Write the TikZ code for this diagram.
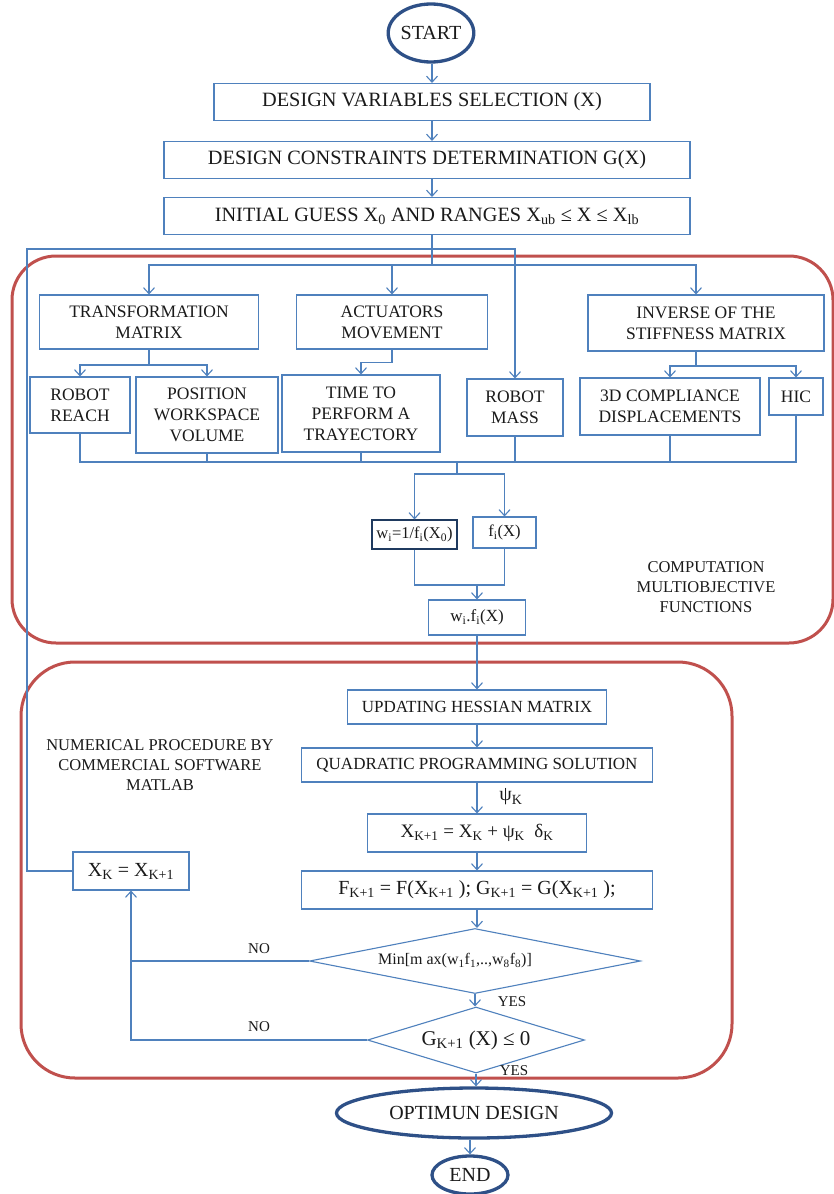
\documentclass[tikz,border=0pt]{standalone}
\usepackage{fontspec}
\setmainfont{Liberation Serif}
\usetikzlibrary{arrows.meta,shapes.geometric}
\definecolor{bl}{HTML}{4F81BD}
\definecolor{dbl}{HTML}{2E5087}
\definecolor{rd}{HTML}{C0504D}
\definecolor{nv}{HTML}{1F3A5F}
\definecolor{ink}{HTML}{1A1A1A}
\newcommand\lsub[1]{\textsubscript{#1}}
\begin{document}
\begin{tikzpicture}[x=1pt,y=-1pt,
  box/.style={draw=bl, line width=1.1pt, inner sep=0pt, align=center, text=ink,
    font=\fontsize{17.5}{21}\selectfont},
  bigbox/.style={box, font=\fontsize{20.3}{23}\selectfont},
  smbox/.style={box, font=\fontsize{17}{20}\selectfont},
  term/.style={ellipse, draw=dbl, line width=3.3pt, inner sep=0pt, text=ink,
    font=\fontsize{20}{22}\selectfont},
  grp/.style={draw=rd, line width=3pt, rounded corners=44pt, inner sep=0pt},
  dec/.style={diamond, draw=bl, line width=1.1pt, inner sep=0pt, text=ink},
  lbl/.style={inner sep=0pt, text=ink, align=center},
  ln/.style={draw=bl, line width=1.1pt},
  arr/.style={ln, -{Straight Barb[length=6pt,width=11pt]}}
]
\useasboundingbox (0,0) rectangle (834,1194);
\fill[white] (0,0) rectangle (834,1194);

% group frames
\node[grp, minimum width=821pt, minimum height=387pt] (g1) at (422.5,449.5) {};
\node[grp, rounded corners=54pt, minimum width=711pt, minimum height=416pt] (g2) at (376.5,870) {};

\coordinate (col) at (432,0);

% top column
\node[term, minimum width=80pt, minimum height=58pt] (start) at (431,33) {START};
\node[bigbox, minimum width=436pt, minimum height=37pt] (b1) at (432,102) {DESIGN VARIABLES SELECTION (X)};
\node[bigbox, minimum width=526pt, minimum height=37pt] (b2) at (427,160) {DESIGN CONSTRAINTS DETERMINATION G(X)};
\node[bigbox, minimum width=526pt, minimum height=37pt] (b3) at (427,216) {INITIAL GUESS X\lsub{0} AND RANGES X\lsub{ub} ≤ X ≤ X\lsub{lb}};

\draw[arr] (start.south -| col) -- (b1.north -| col);
\draw[arr] (b1.south -| col) -- (b2.north -| col);
\draw[arr] (b2.south -| col) -- (b3.north -| col);

% second row
\node[box, minimum width=219pt, minimum height=54pt] (tm) at (149,322) {TRANSFORMATION\\MATRIX};
\node[box, minimum width=191pt, minimum height=54pt] (am) at (392,322) {ACTUATORS\\MOVEMENT};
\node[box, minimum width=236pt, minimum height=56pt] (inv) at (706,323) {INVERSE OF THE\\STIFFNESS MATRIX};

% third row
\node[box, minimum width=100pt, minimum height=56pt] (rr) at (80,405) {ROBOT\\REACH};
\node[box, minimum width=142pt, minimum height=76pt] (pw) at (207,415) {POSITION\\WORKSPACE\\VOLUME};
\node[box, minimum width=158pt, minimum height=77pt] (tt) at (361,413.5) {TIME TO\\PERFORM A\\TRAYECTORY};
\node[box, minimum width=96pt, minimum height=57pt] (rm) at (515,407.5) {ROBOT\\MASS};
\node[box, minimum width=180pt, minimum height=57pt] (cd) at (670,406.5) {3D COMPLIANCE\\DISPLACEMENTS};
\node[box, minimum width=54pt, minimum height=37pt] (hic) at (796,396.5) {HIC};

% branch to second row
\coordinate (br) at (432,265);
\draw[ln] (b3.south -| col) -- (br);
\draw[arr] (br) -| (tm.north);
\draw[arr] (br -| am.north) -- (am.north);
\draw[arr] (br) -| ([xshift=-10pt]inv.north);

% loop back line
\coordinate (lp) at (27,249);

% splits to third row
\coordinate (tms) at (149,365);
\draw[ln] (tm.south) -- (tms);
\draw[arr] (tms) -| (rr.north);
\draw[arr] (tms) -| (pw.north);
\draw[arr] (am.south) -- ++(0,13) -| (tt.north);
\coordinate (ivs) at (696,366);
\draw[ln] ([xshift=-10pt]inv.south) -- (ivs);
\draw[arr] (ivs) -| (cd.north);
\draw[arr] (ivs) -| (hic.north);

% collector
\coordinate (cl) at (457,462);
\draw[ln] (rr.south) |- (hic.south |- cl) -- (hic.south);
\draw[ln] (pw.south) -- (pw.south |- cl);
\draw[ln] (tt.south) -- (tt.south |- cl);
\draw[ln] (rm.south) -- (rm.south |- cl);
\draw[ln] (cd.south) -- (cd.south |- cl);

% weights
\node[box, draw=nv, font=\fontsize{16.5}{18}\selectfont, minimum width=85pt, minimum height=29pt] (wi) at (414.5,534.5) {w\lsub{i}=1/f\lsub{i}(X\lsub{0})};
\node[box, font=\fontsize{16.5}{18}\selectfont, minimum width=63pt, minimum height=31pt] (fi) at (504.5,532.5) {f\lsub{i}(X)};
\node[box, font=\fontsize{17}{18}\selectfont, minimum width=97pt, minimum height=35pt] (wf) at (477,617.5) {w\lsub{i}.f\lsub{i}(X)};
\draw[ln] (cl) -- ++(0,12) coordinate (spl);
\draw[arr] (spl) -| (wi.north);
\draw[arr] (spl) -| (fi.north);
\coordinate (mg) at (477,585);
\draw[ln] (wi.south) |- (fi.south |- mg) -- (fi.south);
\draw[arr] (mg) -- (wf.north);

\node[lbl, font=\fontsize{16.5}{20}\selectfont] (comp) at (706,587) {COMPUTATION\\MULTIOBJECTIVE\\FUNCTIONS};

% numerical procedure
\node[smbox, minimum width=259pt, minimum height=34pt] (uh) at (477,707) {UPDATING HESSIAN MATRIX};
\node[smbox, minimum width=351pt, minimum height=34pt] (qp) at (477,765) {QUADRATIC PROGRAMMING SOLUTION};
\node[box, font=\fontsize{19}{22}\selectfont, minimum width=219pt, minimum height=38pt] (xk1) at (477,833) {X\lsub{K+1} = X\lsub{K} + ψ\lsub{K}\ \ δ\lsub{K}};
\node[box, font=\fontsize{20}{22}\selectfont, minimum width=351pt, minimum height=38pt] (fk) at (477,890) {F\lsub{K+1} = F(X\lsub{K+1} ); G\lsub{K+1} = G(X\lsub{K+1} );};
\node[box, font=\fontsize{20}{22}\selectfont, minimum width=116pt, minimum height=38pt] (xk) at (131,871) {X\lsub{K} = X\lsub{K+1}};
\node[lbl, font=\fontsize{16.5}{20}\selectfont] (num) at (160,765) {NUMERICAL PROCEDURE BY\\COMMERCIAL SOFTWARE\\MATLAB};
\node[dec, shape aspect=5, font=\fontsize{16}{18}\selectfont, minimum width=331pt, minimum height=65pt] (d1) at (475,961) {Min[m ax(w\lsub{1}f\lsub{1},..,w\lsub{8}f\lsub{8})]\hspace*{40pt}};
\node[dec, shape aspect=3.3, font=\fontsize{21}{24}\selectfont, minimum width=217pt, minimum height=66pt] (d2) at (476,1040) {G\lsub{K+1} (X) ≤ 0};

\draw[arr] (wf.south) -- (uh.north);
\draw[arr] (uh.south) -- (qp.north);
\draw[arr] (qp.south) -- (xk1.north);
\node[lbl, font=\fontsize{20}{22}\selectfont] (psi) at (511,797) {ψ\lsub{K}};
\draw[arr] (xk1.south) -- (fk.north);
\draw[arr] (fk.south) -- (fk.south |- d1.north);
\draw[arr] (d1.south) -- (d1.south |- d2.north);
\draw[ln] (d1.west) -- (d1.west -| xk.south);
\draw[arr] (d2.west) -| (xk.south);
\draw[arr] (xk.west) -| (lp) -| (rm.north);

\node[lbl, font=\fontsize{15}{17}\selectfont] (no1) at (259,949) {NO};
\node[lbl, font=\fontsize{15}{17}\selectfont] (no2) at (259,1027) {NO};
\node[lbl, font=\fontsize{15}{17}\selectfont] (yes1) at (512,1002) {YES};
\node[lbl, font=\fontsize{15}{17}\selectfont] (yes2) at (514,1071) {YES};

% end
\node[term, minimum width=275pt, minimum height=50pt] (opt) at (474,1113) {OPTIMUN DESIGN};
\node[term, minimum width=76pt, minimum height=38pt] (end) at (470,1175) {END};
\draw[arr] (d2.south) -- (d2.south |- opt.north);
\draw[arr] (end |- opt.south) -- (end.north);
\end{tikzpicture}
\end{document}
